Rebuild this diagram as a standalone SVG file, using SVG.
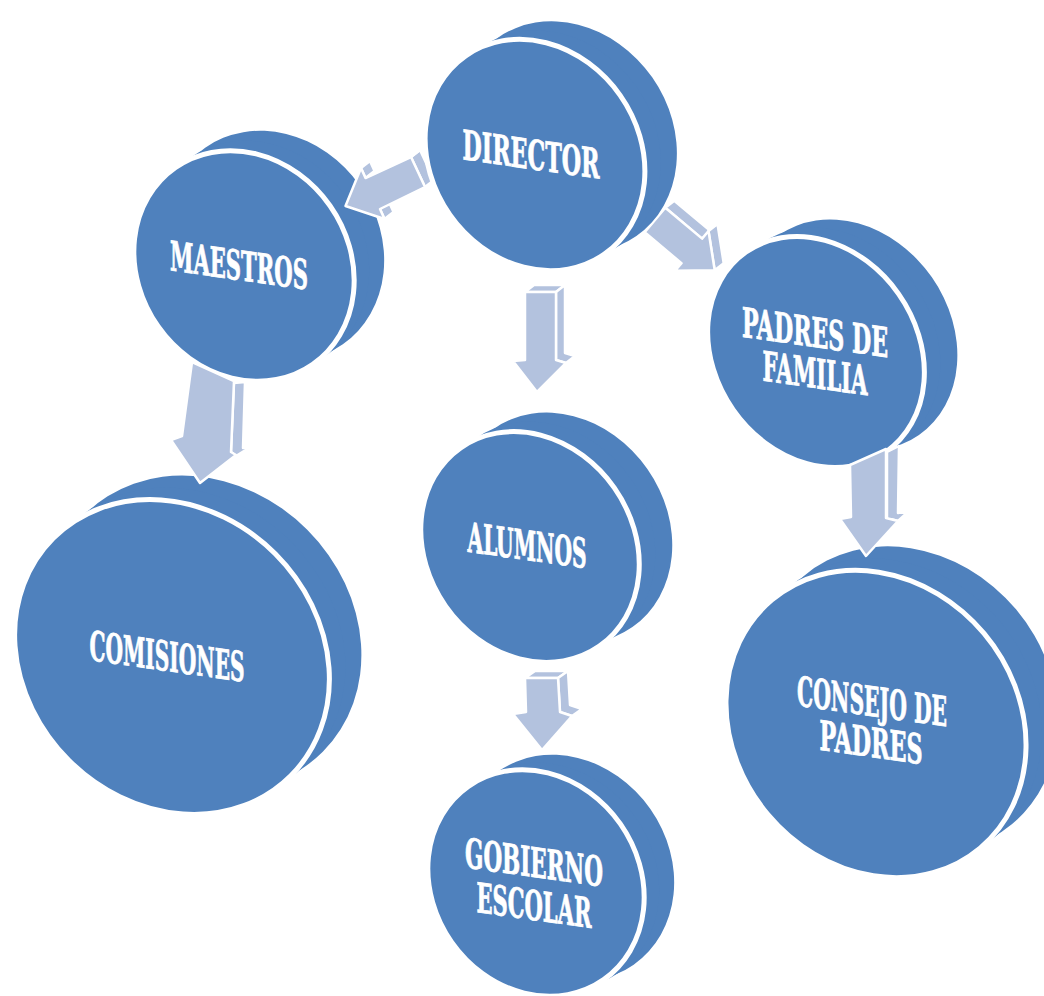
<svg xmlns="http://www.w3.org/2000/svg" width="1044" height="996" viewBox="0 0 1044 996">
<style>
.disc{fill:#4F81BD}
.front{fill:#4F81BD;stroke:#fff;stroke-width:5}
.arr{fill:#B3C2DE;stroke:#fff;stroke-width:2.5;stroke-linejoin:round}
.lbl{font-family:'DejaVu Serif Condensed','DejaVu Serif','Liberation Serif',serif;font-weight:bold;font-size:41px;fill:#fff;stroke:#fff;stroke-width:0.8;text-anchor:middle}
</style>
<rect width="1044" height="996" fill="#fff"/>

<g id="comisiones">
<ellipse class="disc" cx="204" cy="633" rx="168" ry="146" transform="rotate(45 204 633)"/>
<ellipse class="disc" cx="188" cy="645" rx="168" ry="146" transform="rotate(45 188 645)"/>
<ellipse class="front" cx="172" cy="657" rx="168" ry="146" transform="rotate(45 172 657)"/>
<text class="lbl" transform="translate(167,671) skewY(8)" textLength="155" lengthAdjust="spacingAndGlyphs">COMISIONES</text>
</g>

<g id="gobierno">
<ellipse class="disc" cx="566" cy="868" rx="118" ry="103" transform="rotate(55 566 868)"/>
<ellipse class="disc" cx="551" cy="876" rx="118" ry="103" transform="rotate(55 551 876)"/>
<ellipse class="front" cx="536" cy="883" rx="118" ry="103" transform="rotate(55 536 883)"/>
<text class="lbl" transform="translate(534,877) skewY(8)" textLength="138" lengthAdjust="spacingAndGlyphs">GOBIERNO</text>
<text class="lbl" transform="translate(534,920) skewY(8)" textLength="115" lengthAdjust="spacingAndGlyphs">ESCOLAR</text>
</g>

<g id="consejo">
<ellipse class="disc" cx="908" cy="700" rx="162" ry="141" transform="rotate(50 908 700)"/>
<ellipse class="disc" cx="892" cy="712" rx="162" ry="141" transform="rotate(50 892 712)"/>
<ellipse class="front" cx="876" cy="724" rx="162" ry="141" transform="rotate(50 876 724)"/>
<text class="lbl" transform="translate(872,716) skewY(8)" textLength="150" lengthAdjust="spacingAndGlyphs">CONSEJO DE</text>
<text class="lbl" transform="translate(871,757) skewY(8)" textLength="103" lengthAdjust="spacingAndGlyphs">PADRES</text>
</g>

<g id="maestros">
<ellipse class="disc" cx="274" cy="246" rx="120" ry="105" transform="rotate(55 274 246)"/>
<ellipse class="disc" cx="259" cy="256" rx="120" ry="105" transform="rotate(55 259 256)"/>
<ellipse class="front" cx="244" cy="266" rx="120" ry="105" transform="rotate(55 244 266)"/>
<text class="lbl" transform="translate(239,280) skewY(8)" textLength="138" lengthAdjust="spacingAndGlyphs">MAESTROS</text>
</g>

<g id="alumnos">
<ellipse class="disc" cx="563" cy="528" rx="121" ry="103" transform="rotate(55 563 528)"/>
<ellipse class="disc" cx="546" cy="537" rx="121" ry="103" transform="rotate(55 546 537)"/>
<ellipse class="front" cx="530" cy="547" rx="121" ry="103" transform="rotate(55 530 547)"/>
<text class="lbl" transform="translate(527,560) skewY(8)" textLength="119" lengthAdjust="spacingAndGlyphs">ALUMNOS</text>
</g>

<g id="padres">
<ellipse class="disc" cx="849" cy="335" rx="122" ry="101" transform="rotate(55 849 335)"/>
<ellipse class="disc" cx="832" cy="343" rx="122" ry="101" transform="rotate(55 832 343)"/>
<ellipse class="front" cx="816" cy="352" rx="122" ry="101" transform="rotate(55 816 352)"/>
<text class="lbl" transform="translate(815,347) skewY(8)" textLength="146" lengthAdjust="spacingAndGlyphs">PADRES DE</text>
<text class="lbl" transform="translate(815,388) skewY(8)" textLength="105" lengthAdjust="spacingAndGlyphs">FAMILIA</text>
</g>

<g id="connectors">
<!-- DIRECTOR -> MAESTROS -->
<polygon class="arr" points="425,187 434,180 420,150 411,157"/>
<polygon class="arr" points="411,157 420,150 374.5,171 365.5,178"/>
<polygon class="arr" points="361,168 370,161 374.5,171 365.5,178"/>
<polygon class="arr" points="380,209 389,202 393.5,212 384.5,219"/>
<polygon class="arr" points="425,187 380,209 384.5,219 345.5,206 361,168 365.5,178 411,157"/>
<!-- DIRECTOR -> PADRES -->
<polygon class="arr" points="665.3,207.7 674.3,200.7 711.1,231.6 702.1,238.6"/>
<polygon class="arr" points="708.5,231 717.5,224 723.7,263.2 714.7,270.2"/>
<polygon class="arr" points="665.3,207.7 702.1,238.6 708.5,231 714.7,270.2 675.1,270.8 681.5,263.2 644.7,232.3"/>
<!-- DIRECTOR -> ALUMNOS -->
<polygon class="arr" points="525,292 556,292 565,285 534,285"/>
<polygon class="arr" points="556,292 565,285 565,353 575,356 566,363 556,360"/>
<polygon class="arr" points="525,292 556,292 556,360 566,363 537,392 513,361 525,360"/>
<!-- ALUMNOS -> GOBIERNO -->
<polygon class="arr" points="525,678 558,678 568,671 535,671"/>
<polygon class="arr" points="558,678 568,671 570,705 582,709 572,716 560,712"/>
<polygon class="arr" points="525,678 558,678 560,712 572,716 542,750 513,714 526,712"/>
<!-- MAESTROS -> COMISIONES -->
<polygon class="arr" points="234,383 245,382 243,448 252,446 236,456 231,452"/>
<polygon class="arr" points="192,362 234,381 231,452 236,455 200,483 171,440 182,436"/>
<!-- PADRES -> CONSEJO -->
<polygon class="arr" points="887,452 899,446 898,513 909,511 898,521 887,518"/>
<polygon class="arr" points="850,465 886,449 886,518 898,521 866,556 840,519 851,517"/>
</g>

<g id="director">
<ellipse class="disc" cx="567" cy="137" rx="121" ry="104" transform="rotate(55 567 137)"/>
<ellipse class="disc" cx="551" cy="146" rx="121" ry="104" transform="rotate(55 551 146)"/>
<ellipse class="front" cx="535" cy="155" rx="121" ry="104" transform="rotate(55 535 155)"/>
<text class="lbl" transform="translate(531,169) skewY(8)" textLength="137" lengthAdjust="spacingAndGlyphs">DIRECTOR</text>
</g>
</svg>
